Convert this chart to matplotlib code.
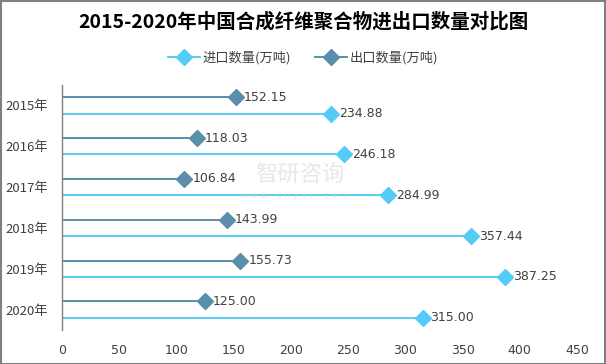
import matplotlib
matplotlib.use("Agg")
import matplotlib.pyplot as plt
from matplotlib.lines import Line2D
from matplotlib.patches import Rectangle
import numpy as np

plt.rcParams['font.family'] = ['Noto Sans CJK SC', 'DejaVu Sans']

years = ['2015年', '2016年', '2017年', '2018年', '2019年', '2020年']
imports = [234.88, 246.18, 284.99, 357.44, 387.25, 315.00]
exports = [152.15, 118.03, 106.84, 143.99, 155.73, 125.00]
xticks = [0, 50, 100, 150, 200, 250, 300, 350, 400, 450]

c_imp = '#55CCF7'
c_exp = '#5A8EAA'
txt = '#404040'

W, H = 606, 364
fig = plt.figure(figsize=(W / 100, H / 100), dpi=100)
ax = fig.add_axes([62 / W, 1 - 330 / H, (577 - 62) / W, (330 - 85) / H])

y = np.arange(len(years))
off = 0.2
for i in range(len(years)):
    ax.plot([0, exports[i]], [y[i] - off, y[i] - off], color=c_exp, lw=1.4, zorder=2)
    ax.plot([exports[i]], [y[i] - off], marker='D', color=c_exp, ms=8, zorder=3)
    ax.text(exports[i] + 7, y[i] - off, f'{exports[i]:.2f}', va='center', ha='left',
            fontsize=9, color=txt, family=['DejaVu Sans'])
    ax.plot([0, imports[i]], [y[i] + off, y[i] + off], color=c_imp, lw=1.4, zorder=2)
    ax.plot([imports[i]], [y[i] + off], marker='D', color=c_imp, ms=8, zorder=3)
    ax.text(imports[i] + 7, y[i] + off, f'{imports[i]:.2f}', va='center', ha='left',
            fontsize=9, color=txt, family=['DejaVu Sans'])

ax.set_xlim(0, 450)
ax.set_ylim(len(years) - 0.5, -0.5)
ax.set_xticks(xticks)
ax.set_xticklabels([str(v) for v in xticks], fontsize=9, color=txt, family=['DejaVu Sans'])
ax.set_yticks(y)
ax.set_yticklabels(years, fontsize=9.5, color=txt)
ax.tick_params(axis='both', length=0)
ax.tick_params(axis='x', pad=10)
ax.tick_params(axis='y', pad=10)
for s in ['top', 'right', 'bottom']:
    ax.spines[s].set_visible(False)
ax.spines['left'].set_color('#808080')
ax.spines['left'].set_linewidth(1.0)

fig.text(0.5, 1 - 22 / H, '2015-2020年中国合成纤维聚合物进出口数量对比图', ha='center', va='center',
         fontsize=14, fontweight='bold', color='black')

handles = [Line2D([0], [0], color=c_imp, marker='D', ms=8, lw=1.4, markevery=[1]),
           Line2D([0], [0], color=c_exp, marker='D', ms=8, lw=1.4, markevery=[1])]
leg = fig.legend(handles, ['进口数量(万吨)', '出口数量(万吨)'], loc='center',
                 bbox_to_anchor=(0.5, 1 - 58 / H), ncol=2, frameon=False,
                 fontsize=9.5, handlelength=2.4, columnspacing=1.8, handletextpad=0.2)
for t in leg.get_texts():
    t.set_color(txt)

# watermark
fig.text(255 / W, 1 - 175 / H, '智研咨询', fontsize=16, color='#d0d0d0', alpha=0.5,
         ha='left', va='center')
fig.text(240 / W, 1 - 196 / H, 'w w w . c h y x x . c o m', fontsize=6.5, color='#d0d0d0', alpha=0.5,
         ha='left', va='center', family=['DejaVu Sans'])

fig.patches.append(Rectangle((0.5 / W, 0.5 / H), 1 - 1.5 / W, 1 - 1.5 / H, transform=fig.transFigure,
                             fill=False, edgecolor='#808080', lw=1.5))

fig.savefig('out.png', dpi=100)
